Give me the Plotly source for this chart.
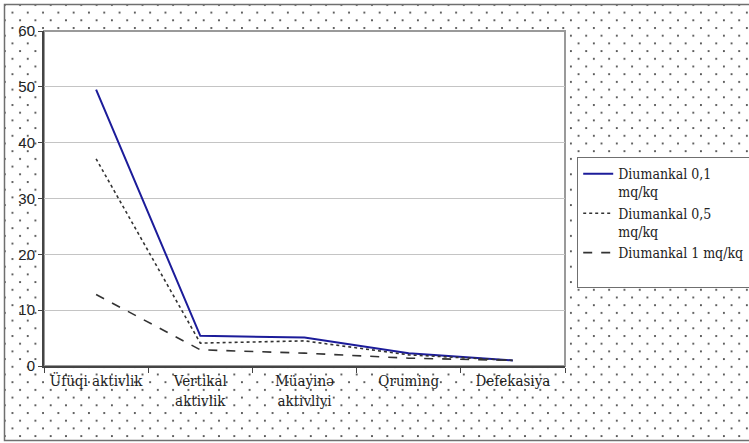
import base64
import plotly.graph_objects as go

# Behavioural indicators and the three dose groups
categories = ["Üfüqi aktivlik", "Vertikal<br>aktivlik", "Müayinə<br>aktivliyi", "Qruming", "Defekasiya"]
dose_01 = [49.5, 5.4, 5.1, 2.3, 1.0]
dose_05 = [37.1, 4.1, 4.5, 2.0, 1.0]
dose_1 = [12.8, 2.9, 2.3, 1.4, 1.0]
series_names = ["Diumankal 0,1<br>mq/kq", "Diumankal 0,5<br>mq/kq", "Diumankal 1 mq/kq<br> "]
y_ticks = [0, 10, 20, 30, 40, 50, 60]

W_FIG, H_FIG = 749, 443
M_L, M_R, M_T, M_B = 44, 184, 31, 77
W_PLOT = W_FIG - M_L - M_R
H_PLOT = H_FIG - M_T - M_B

# Dotted backdrop with an outer frame, drawn as an SVG image under the plot
svg = f"""<svg xmlns='http://www.w3.org/2000/svg' width='{W_FIG}' height='{H_FIG}' viewBox='0 0 {W_FIG} {H_FIG}' preserveAspectRatio='none'>
<defs><pattern id='dots' x='1' y='1' width='15.3' height='15.4' patternUnits='userSpaceOnUse'>
<circle cx='3.8' cy='3.9' r='1.05' fill='#444'/><circle cx='11.45' cy='11.6' r='1.05' fill='#444'/>
</pattern></defs>
<rect x='0' y='0' width='{W_FIG}' height='{H_FIG}' fill='white'/>
<rect x='4.5' y='4.5' width='{W_FIG + 20}' height='436' fill='url(#dots)' stroke='#6f6f6f' stroke-width='1.5'/>
</svg>"""
svg_uri = "data:image/svg+xml;base64," + base64.b64encode(svg.encode()).decode()

serif = "DejaVu Serif Condensed, DejaVu Serif"
sans = "Liberation Sans, Arial"

fig = go.Figure()
fig.add_trace(go.Scatter(x=categories, y=dose_01, mode="lines", name=series_names[0],
                         line=dict(color="#1c1c9a", width=2)))
fig.add_trace(go.Scatter(x=categories, y=dose_05, mode="lines", name=series_names[1],
                         line=dict(color="#333333", width=1.6, dash="dot")))
fig.add_trace(go.Scatter(x=categories, y=dose_1, mode="lines", name=series_names[2],
                         line=dict(color="#333333", width=1.6, dash="dash")))

fig.update_layout(
    width=W_FIG, height=H_FIG,
    margin=dict(l=M_L, r=M_R, t=M_T, b=M_B, autoexpand=False),
    paper_bgcolor="white", plot_bgcolor="white",
    showlegend=True,
    legend=dict(
        x=(577 - M_L) / W_PLOT, y=(H_FIG - M_B - 157) / H_PLOT,
        xanchor="left", yanchor="top",
        bgcolor="white", bordercolor="#6f6f6f", borderwidth=1.2,
        font=dict(family=serif, size=14, color="#222"),
        valign="top", tracegroupgap=0,
    ),
    images=[dict(
        source=svg_uri, xref="paper", yref="paper",
        x=-M_L / W_PLOT, y=1 + M_T / H_PLOT,
        sizex=W_FIG / W_PLOT, sizey=H_FIG / H_PLOT,
        xanchor="left", yanchor="top", sizing="stretch", layer="below",
    )],
    shapes=[dict(
        type="rect", xref="paper", yref="paper", x0=0, x1=1, y0=0, y1=1,
        fillcolor="white", line=dict(color="#9a9a9a", width=2), layer="below",
    )],
)

fig.update_xaxes(
    type="category", range=[-0.5, 4.5],
    showline=True, linecolor="#444", linewidth=2,
    ticks="outside", tickson="boundaries", ticklen=5, tickcolor="#444",
    showgrid=False, zeroline=False,
    tickfont=dict(family=serif, size=15, color="#222"),
)
fig.update_yaxes(
    range=[0, 60], tickvals=y_ticks,
    showline=True, linecolor="#444", linewidth=2,
    ticks="outside", ticklen=4, tickcolor="#444",
    showgrid=True, gridcolor="#c4c4c4", gridwidth=1, zeroline=False,
    tickfont=dict(family=sans, size=15, color="#222"),
)

fig.write_html("out.html")
